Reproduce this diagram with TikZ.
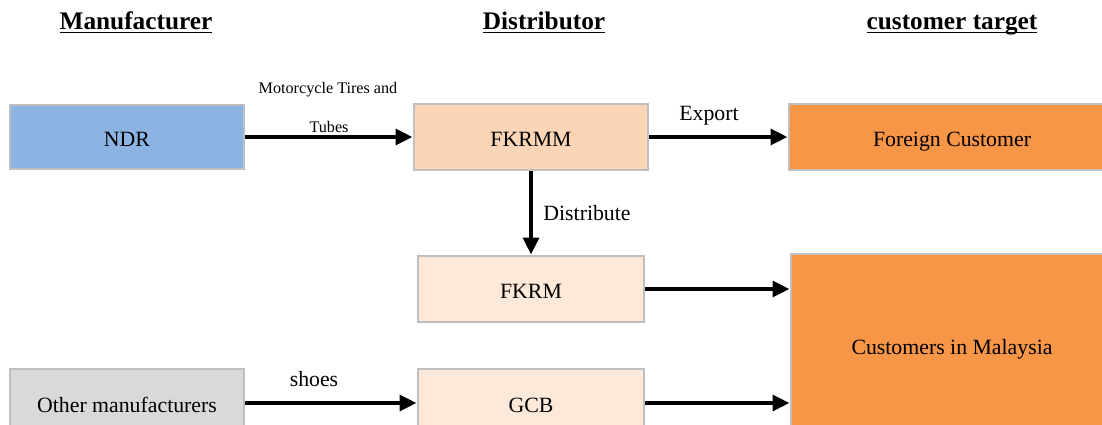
\documentclass[tikz,border=0pt]{standalone}
\usepackage{fontspec}
\setmainfont{Liberation Serif}
\usetikzlibrary{arrows.meta}
\definecolor{ndrblue}{HTML}{8DB3E2}
\definecolor{peach}{HTML}{FBD5B5}
\definecolor{lightpeach}{HTML}{FDE9D9}
\definecolor{custorange}{HTML}{F79646}
\definecolor{othergray}{HTML}{D9D9D9}
\definecolor{boxgray}{HTML}{BFBFBF}

\begin{document}
\begin{tikzpicture}[x=0.025cm,y=-0.025cm,
  box/.style={draw=boxgray,line width=2pt,inner sep=0pt,text height=14pt,text depth=0pt,
    font=\fontsize{15.5}{18}\selectfont},
  flow/.style={line width=3pt,-{Triangle[length=12pt,width=11pt]}},
  head/.style={anchor=base,font=\fontsize{18}{21}\selectfont\bfseries},
  lbl/.style={font=\fontsize{15.5}{18}\selectfont,inner sep=0pt}]
 \useasboundingbox (0,0) rectangle (1102,425);
 \clip (0,0) rectangle (1102,425);
 % column headings
 \node[head] (hman) at (136,30) {\underline{\smash{Manufacturer}}};
 \node[head] (hdis) at (544,30) {\underline{\smash{Distributor}}};
 \node[head] (hcus) at (952,30) {\underline{\smash{customer target}}};
 % boxes
 \node[box,fill=ndrblue,minimum width=5.85cm,minimum height=1.6cm] (ndr) at (127,137) {NDR};
 \node[box,fill=peach,minimum width=5.85cm,minimum height=1.65cm] (fkrmm) at (531,137) {FKRMM};
 \node[box,fill=custorange,minimum width=8.15cm,minimum height=1.65cm] (foreign) at (952,137) {Foreign Customer};
 \node[box,fill=lightpeach,minimum width=5.65cm,minimum height=1.65cm] (fkrm) at (531,289) {FKRM};
 \node[box,fill=lightpeach,minimum width=5.65cm,minimum height=1.7cm] (gcb) at (531,403) {GCB};
 \node[box,fill=othergray,minimum width=5.85cm,minimum height=1.7cm] (other) at (127,403) {Other manufacturers};
 \node[box,fill=custorange,minimum width=8.05cm,minimum height=4.55cm] (malaysia) at (952,345) {Customers in Malaysia};
 % flows
 \draw[flow] (ndr.east) -- (fkrmm.west);
 \draw[flow] (fkrmm.east) -- (foreign.west);
 \draw[flow] (fkrmm.south) -- (fkrm.north);
 \draw[flow] (fkrm.east) -- (fkrm.east -| malaysia.west);
 \draw[flow] (other.east) -- (gcb.west);
 \draw[flow] (gcb.east) -- (gcb.east -| malaysia.west);
 % labels
 \node[lbl,font=\fontsize{11.5}{13}\selectfont] (tires) at (328,90) {Motorcycle Tires and};
 \node[lbl,font=\fontsize{11.5}{13}\selectfont] (tubes) at (329,127) {Tubes};
 \node[lbl] (export) at (709,116) {Export};
 \node[lbl] (distr) at (587,213) {Distribute};
 \node[lbl] (shoes) at (314,379) {shoes};
\end{tikzpicture}
\end{document}
